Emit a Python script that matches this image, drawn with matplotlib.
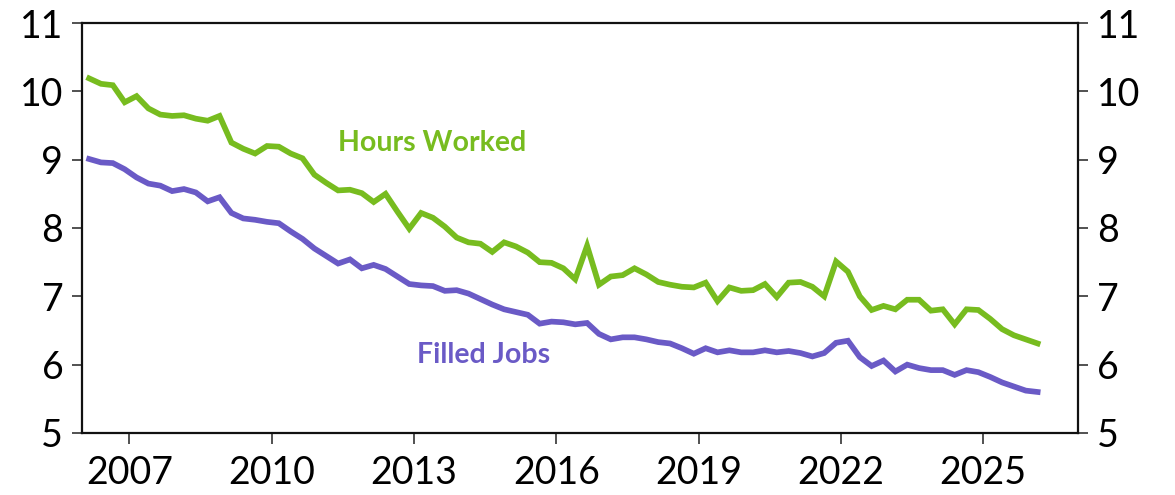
import numpy as np
import matplotlib
matplotlib.use("Agg")
import matplotlib.pyplot as plt

plt.rcParams['font.family'] = ['Lato', 'DejaVu Sans']

# quarterly observations, first one in early 2006
start_year = 2006.15
hours_worked = [10.19, 10.11, 10.09, 9.84, 9.93, 9.75, 9.66, 9.64, 9.65, 9.60,
                9.57, 9.64, 9.25, 9.16, 9.09, 9.20, 9.19, 9.09, 9.02, 8.78,
                8.66, 8.55, 8.56, 8.51, 8.38, 8.50, 8.24, 7.99, 8.22, 8.15,
                8.02, 7.86, 7.79, 7.77, 7.65, 7.79, 7.73, 7.64, 7.50, 7.49,
                7.41, 7.25, 7.74, 7.17, 7.29, 7.31, 7.41, 7.32, 7.21, 7.17,
                7.14, 7.13, 7.20, 6.93, 7.13, 7.08, 7.09, 7.18, 6.99, 7.20,
                7.21, 7.14, 7.00, 7.51, 7.36, 7.00, 6.80, 6.86, 6.81, 6.95,
                6.95, 6.79, 6.81, 6.59, 6.81, 6.80, 6.67, 6.52, 6.43, 6.37,
                6.31]
filled_jobs = [9.01, 8.96, 8.95, 8.86, 8.74, 8.65, 8.62, 8.54, 8.57, 8.52,
               8.39, 8.45, 8.22, 8.14, 8.12, 8.09, 8.07, 7.95, 7.84, 7.70,
               7.59, 7.48, 7.54, 7.41, 7.46, 7.40, 7.29, 7.18, 7.16, 7.15,
               7.08, 7.09, 7.04, 6.96, 6.88, 6.81, 6.77, 6.73, 6.60, 6.63,
               6.62, 6.59, 6.61, 6.45, 6.37, 6.40, 6.40, 6.37, 6.33, 6.31,
               6.24, 6.16, 6.24, 6.18, 6.21, 6.18, 6.18, 6.21, 6.18, 6.20,
               6.17, 6.12, 6.17, 6.32, 6.35, 6.11, 5.98, 6.06, 5.90, 6.00,
               5.95, 5.92, 5.92, 5.85, 5.92, 5.89, 5.82, 5.74, 5.68, 5.62,
               5.60]
year_ticks = [2007, 2010, 2013, 2016, 2019, 2022, 2025]
y_ticks = [5, 6, 7, 8, 9, 10, 11]

dates = start_year + 0.25 * np.arange(len(hours_worked))

green = '#77BC1F'
purple = '#6A5AC6'

fig = plt.figure(figsize=(11.75, 4.95), dpi=100)
ax = fig.add_axes([0.0698, 0.1253, 0.9174 - 0.0698, 0.9535 - 0.1253])

ax.plot(dates, hours_worked, color=green, lw=4.1, solid_joinstyle='miter')
ax.plot(dates, filled_jobs, color=purple, lw=4.1, solid_joinstyle='miter')

ax.text(2013.38, 9.24, 'Hours Worked', color=green, fontsize=20.5,
        fontweight='bold', ha='center', va='center')
ax.text(2014.46, 6.14, 'Filled Jobs', color=purple, fontsize=20.5,
        fontweight='bold', ha='center', va='center')

ax.set_xlim(2006, 2027)
ax.set_ylim(5, 11)
ax.set_xticks(year_ticks)
ax.set_xticklabels([str(y) for y in year_ticks])
ax.set_yticks(y_ticks)

for side in ['left', 'right', 'top', 'bottom']:
    ax.spines[side].set_linewidth(1.6)
    ax.spines[side].set_color('#111111')

ax.tick_params(axis='y', which='both', direction='out', length=7.5, width=1.2,
               color='#333333', labelsize=27, right=True, labelright=True, pad=6)
ax.tick_params(axis='x', direction='out', length=8, width=1.2,
               color='#333333', labelsize=27, pad=8)

fig.savefig('out.png', dpi=100)
